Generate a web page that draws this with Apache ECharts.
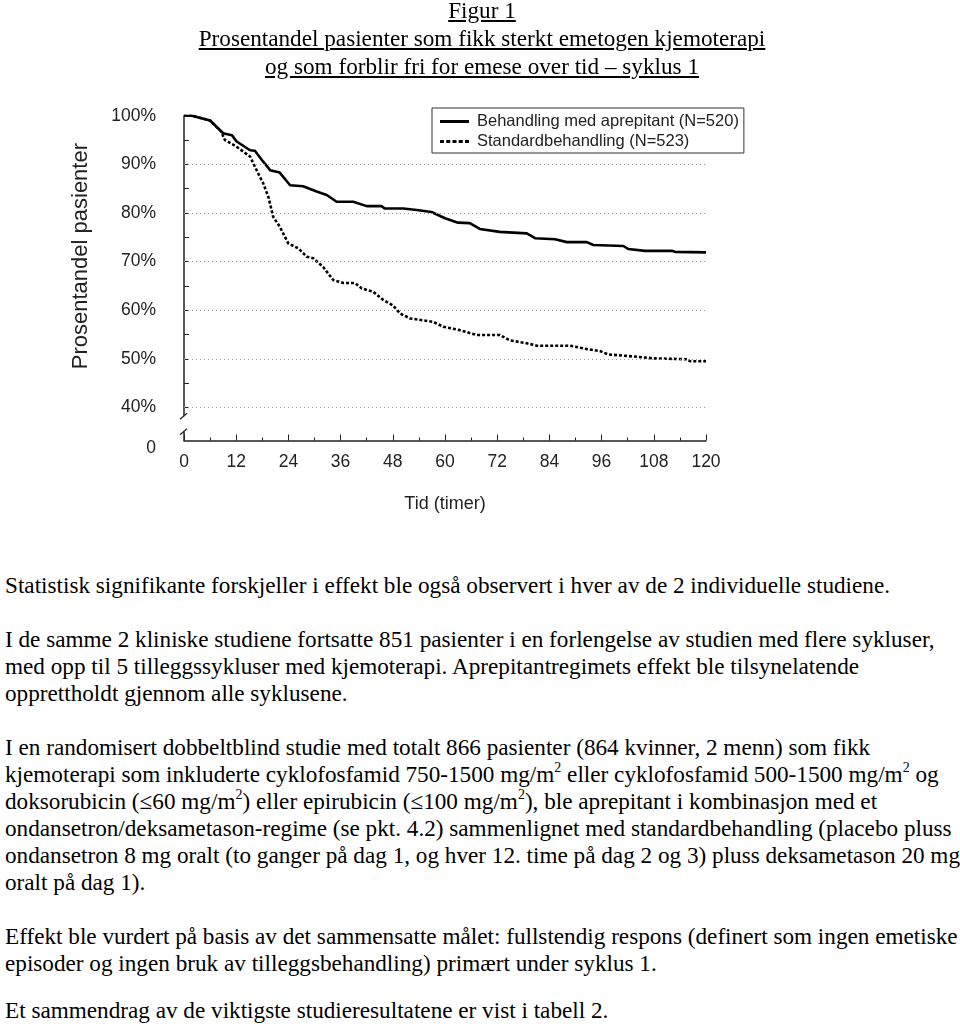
<!DOCTYPE html>
<html>
<head>
<meta charset="utf-8">
<script src="https://cdn.jsdelivr.net/npm/echarts@6/dist/echarts.min.js"></script>
<style>
  html, body { margin:0; padding:0; background:#fff; }
  body { width:960px; height:1029px; position:relative; overflow:hidden; }
  #chart { position:absolute; left:0; top:0; width:960px; height:540px; z-index:1; }
  .t { position:absolute; left:2px; width:960px; text-align:center; font-family:"Liberation Serif","Times New Roman",serif; font-size:23.2px; line-height:28px; text-decoration:underline; color:#000; white-space:nowrap; z-index:2; }
  .p { position:absolute; left:5px; font-family:"Liberation Serif","Times New Roman",serif; font-size:23.2px; line-height:27px; color:#000; white-space:nowrap; z-index:2; }
  sup { font-size:14px; line-height:0; vertical-align:10px; }
</style>
</head>
<body>
<div id="chart"></div>
<div class="t" style="top:-4px">Figur 1</div>
<div class="t" style="top:24px">Prosentandel pasienter som fikk sterkt emetogen kjemoterapi</div>
<div class="t" style="top:52px">og som forblir fri for emese over tid – syklus 1</div>

<div class="p" style="top:572px">Statistisk signifikante forskjeller i effekt ble også observert i hver av de 2 individuelle studiene.</div>

<div class="p" style="top:626px">I de samme 2 kliniske studiene fortsatte 851 pasienter i en forlengelse av studien med flere sykluser,</div>
<div class="p" style="top:653px">med opp til 5 tilleggssykluser med kjemoterapi. Aprepitantregimets effekt ble tilsynelatende</div>
<div class="p" style="top:680px">opprettholdt gjennom alle syklusene.</div>

<div class="p" style="top:734px">I en randomisert dobbeltblind studie med totalt 866 pasienter (864 kvinner, 2 menn) som fikk</div>
<div class="p" style="top:761px">kjemoterapi som inkluderte cyklofosfamid 750-1500 mg/m<sup>2</sup> eller cyklofosfamid 500-1500 mg/m<sup>2</sup> og</div>
<div class="p" style="top:788px">doksorubicin (≤60 mg/m<sup>2</sup>) eller epirubicin (≤100 mg/m<sup>2</sup>), ble aprepitant i kombinasjon med et</div>
<div class="p" style="top:815px">ondansetron/deksametason-regime (se pkt. 4.2) sammenlignet med standardbehandling (placebo pluss</div>
<div class="p" style="top:842px">ondansetron 8 mg oralt (to ganger på dag 1, og hver 12. time på dag 2 og 3) pluss deksametason 20 mg</div>
<div class="p" style="top:869px">oralt på dag 1).</div>

<div class="p" style="top:923px">Effekt ble vurdert på basis av det sammensatte målet: fullstendig respons (definert som ingen emetiske</div>
<div class="p" style="top:950px">episoder og ingen bruk av tilleggsbehandling) primært under syklus 1.</div>

<div class="p" style="top:997px">Et sammendrag av de viktigste studieresultatene er vist i tabell 2.</div>

<script>
// ---- data (hours, percent) ----
const aprepHours = [0, 1.8, 6, 6.7, 9, 9.4, 11, 12.1, 15.2, 16.3, 17.9, 19.8, 22, 24.4, 27.4, 30.5, 32.8, 35.1, 38.9, 42, 45.4, 46.2, 50.4, 53.5, 56.9, 60, 63, 65.7, 68, 72.6, 78.8, 80.7, 85.3, 88, 92.6, 94.1, 101, 102.1, 106, 112.1, 112.9, 120];
const aprepValues = [100, 100, 99, 98.4, 96.4, 96, 96, 94.7, 92.9, 92.8, 90.9, 88.8, 88.3, 85.7, 85.5, 84.4, 83.7, 82.3, 82.3, 81.4, 81.4, 80.9, 80.9, 80.6, 80.2, 78.9, 78, 77.9, 76.7, 76.1, 75.8, 74.8, 74.6, 74, 74, 73.4, 73.2, 72.6, 72.2, 72.2, 72, 71.9];
const stdHours = [0, 1.8, 6, 6.7, 8.5, 9.4, 12.1, 15.2, 16.3, 18.2, 19.4, 20.5, 22, 24, 26.3, 28.2, 29.7, 32, 34.3, 36.6, 39.3, 40.8, 43.5, 45.8, 48, 49.7, 52, 57.3, 59.6, 63.4, 67.3, 72.6, 74.9, 78.8, 81.1, 88.7, 92.6, 95.6, 97.5, 101.8, 107.9, 115.6, 116.3, 120];
const stdValues = [100, 100, 99, 98.4, 96.8, 95, 93.6, 91.6, 89.5, 86.1, 83.3, 79.2, 77.2, 73.7, 72.7, 71, 70.7, 68.9, 66.2, 65.6, 65.6, 64.5, 63.8, 62.1, 61, 59.3, 58.3, 57.6, 56.6, 55.9, 54.9, 54.9, 53.8, 53.2, 52.7, 52.7, 52, 51.6, 50.9, 50.6, 50.1, 49.9, 49.5, 49.5];
const seriesNames = ['Behandling med aprepitant (N=520)', 'Standardbehandling (N=523)'];
const yLabelValues = [33.2, 40, 50, 60, 70, 80, 90, 100];
const yTickValues = [40, 45, 50, 55, 60, 65, 70, 75, 80, 85, 90, 95, 100];
const gridValues = [40, 50, 60, 70, 80, 90];
const yAxisBottom = 33.2;
const xAxisName = 'Tid (timer)';
const yAxisName = 'Prosentandel pasienter';

const zip = (a, b) => a.map((v, i) => [v, b[i]]);

const solidIcon = 'path://M0,0H29V3H0Z';
const dashIcon = 'path://M0,0H4V3H0Z M6.25,0H10.25V3H6.25Z M12.5,0H16.5V3H12.5Z M18.75,0H22.75V3H18.75Z M25,0H29V3H25Z';

const chart = echarts.init(document.getElementById('chart'), null, { renderer: 'canvas' });
const sans = '"Liberation Sans", Arial, sans-serif';
chart.setOption({
  animation: false,
  backgroundColor: 'transparent',
  grid: { left: 184, right: 254, top: 115.7, height: 324.8, containLabel: false },
  legend: {
    left: 432, top: 108, orient: 'vertical',
    padding: [5, 5, 3, 8], itemGap: 3, itemWidth: 29, itemHeight: 3,
    borderColor: '#333', borderWidth: 1,
    textStyle: { fontFamily: sans, fontSize: 16.5, color: '#222', padding: [0, 0, 0, 3] },
    data: [
      { name: seriesNames[0], icon: solidIcon },
      { name: seriesNames[1], icon: dashIcon }
    ]
  },
  xAxis: {
    type: 'value', min: 0, max: 120, interval: 12,
    name: xAxisName, nameLocation: 'middle', nameGap: 55,
    nameTextStyle: { fontFamily: sans, fontSize: 18, color: '#222' },
    axisLine: { lineStyle: { color: '#222', width: 1.5 } },
    axisTick: { inside: true, length: 6, lineStyle: { color: '#222' } },
    minorTick: { show: true, splitNumber: 2, length: 3, lineStyle: { color: '#222' } },
    axisLabel: { fontFamily: sans, fontSize: 17.5, color: '#222', margin: 13 },
    splitLine: { show: false }
  },
  yAxis: {
    type: 'value', min: yAxisBottom, max: 100,
    name: yAxisName, nameLocation: 'middle', nameGap: 92,
    nameTextStyle: { fontFamily: sans, fontSize: 22, color: '#222', padding: [0, 0, 0, 44] },
    axisLine: { show: true, lineStyle: { color: '#222', width: 1.5 } },
    axisTick: { show: true, inside: true, length: 5, customValues: yTickValues, lineStyle: { color: '#222' } },
    axisLabel: {
      fontFamily: sans, fontSize: 17.5, color: '#222', margin: 28,
      customValues: yLabelValues,
      formatter: v => (v < 35 ? '{z|0}' : v + '%'),
      rich: { z: { fontFamily: sans, fontSize: 17.5, color: '#222', padding: [16, 0, 0, 0] } }
    },
    splitLine: { show: false }
  },
  series: [
    {
      name: seriesNames[0], type: 'line', data: zip(aprepHours, aprepValues),
      symbol: 'none', showSymbol: false,
      lineStyle: { color: '#000', width: 2.6, type: 'solid' },
      itemStyle: { color: '#000' },
      z: 3,
      markLine: {
        silent: true, symbol: ['none', 'none'], animation: false,
        label: { show: false },
        lineStyle: { color: '#999', width: 1, type: [1, 3] },
        data: gridValues.map(v => ({ yAxis: v }))
      }
    },
    {
      name: seriesNames[1], type: 'line', data: zip(stdHours, stdValues),
      symbol: 'none', showSymbol: false,
      lineStyle: { color: '#000', width: 2.6, type: [3, 2] },
      itemStyle: { color: '#000' },
      z: 3
    }
  ]
});

// axis break marks on the y axis between 40% and 0
const pTop = chart.convertToPixel({ gridIndex: 0 }, [0, 38.2]);
const pBot = chart.convertToPixel({ gridIndex: 0 }, [0, 35.0]);
chart.setOption({
  graphic: [
    { type: 'rect', shape: { x: pTop[0] - 5, y: pTop[1], width: 10, height: pBot[1] - pTop[1] }, style: { fill: '#fff' }, z: 100 },
    { type: 'line', shape: { x1: pTop[0] - 4, y1: pTop[1] + 3, x2: pTop[0] + 3, y2: pTop[1] - 3 }, style: { stroke: '#222', lineWidth: 1.3 }, z: 101 },
    { type: 'line', shape: { x1: pBot[0] - 4, y1: pBot[1] + 3, x2: pBot[0] + 3, y2: pBot[1] - 3 }, style: { stroke: '#222', lineWidth: 1.3 }, z: 101 }
  ]
});
</script>
</body>
</html>
